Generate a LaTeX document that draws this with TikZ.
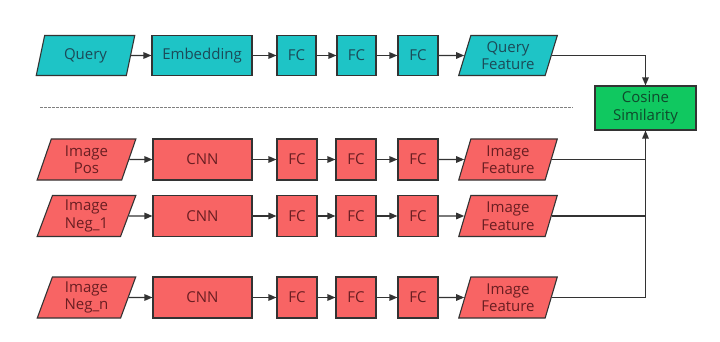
\documentclass[tikz,border=0pt]{standalone}
\usepackage{fontspec}
\setmainfont{Open Sans}
\usetikzlibrary{shapes.geometric,arrows.meta}
\definecolor{qfill}{HTML}{1EC4C6}
\definecolor{ifill}{HTML}{F86464}
\definecolor{cfill}{HTML}{10C860}
\definecolor{edge}{HTML}{333333}
\definecolor{qtext}{HTML}{1C4A58}
\definecolor{itext}{HTML}{6A1E22}
\definecolor{ctext}{HTML}{0F4A2C}
\begin{document}
\begin{tikzpicture}[x=1pt,y=-1pt,
  base/.style={draw=edge,line width=1.1pt,font=\fontsize{15}{17.5}\selectfont,align=center,inner sep=0pt},
  box/.style={base,rectangle,minimum height=40pt},
  para/.style={base,trapezium,trapezium left angle=73,trapezium right angle=107,
    trapezium stretches=true,minimum width=99pt,minimum height=40pt},
  qbox/.style={box,fill=qfill,text=qtext},
  qpara/.style={para,fill=qfill,text=qtext},
  ibox/.style={box,fill=ifill,text=itext,minimum height=41pt},
  ipara/.style={para,fill=ifill,text=itext,minimum height=41pt},
  flow/.style={draw=edge,line width=1.3pt,-{Triangle[length=8pt,width=6.5pt]}},
  link/.style={draw=edge,line width=1.3pt}]
\useasboundingbox (0,0) rectangle (720,342);

% query branch
\node[qpara] (q) at (85.5,55.5) {Query};
\node[qbox,minimum width=100pt] (emb) at (202,55.5) {Embedding};
\node[qbox,minimum width=39pt] (qf1) at (296.5,55.5) {FC};
\node[qbox,minimum width=39pt] (qf2) at (356.5,55.5) {FC};
\node[qbox,minimum width=40pt] (qf3) at (418,55.5) {FC};
\node[qpara] (qfeat) at (508,55.5) {Query\\Feature};

% similarity
\node[box,fill=cfill,text=ctext,minimum width=101pt,minimum height=44pt] (cos) at (645.5,108) {Cosine\\Similarity};

% separator
\draw[draw=black!50,line width=0.6pt,dash pattern=on 2.5pt off 1.5pt] (40,107) coordinate (sepl) -- (573,107) coordinate (sepr);

% image branches
\foreach \n/\y/\lbl in {p/159.5/{Image\\Pos}, a/216/{Image\\Neg\_1}, b/297.5/{Image\\Neg\_n}}{
  \node[ipara] (in\n) at (86.5,\y) {\lbl};
  \node[ibox,minimum width=99pt] (cnn\n) at (202.5,\y) {CNN};
  \node[ibox,minimum width=40pt] (fa\n) at (297,\y) {FC};
  \node[ibox,minimum width=40pt] (fb\n) at (356,\y) {FC};
  \node[ibox,minimum width=40pt] (fc\n) at (418,\y) {FC};
  \node[ipara] (feat\n) at (508,\y) {Image\\Feature};
  \draw[flow] (in\n) -- (cnn\n);
  \draw[flow] (cnn\n) -- (fa\n);
  \draw[flow] (fa\n) -- (fb\n);
  \draw[flow] (fb\n) -- (fc\n);
  \draw[flow] (fc\n) -- (feat\n);
}

\draw[flow] (q) -- (emb);
\draw[flow] (emb) -- (qf1);
\draw[flow] (qf1) -- (qf2);
\draw[flow] (qf2) -- (qf3);
\draw[flow] (qf3) -- (qfeat);
\draw[flow] (qfeat.east) -| (cos.north);

\draw[link] (featp.east) -- (featp.east -| cos.south);
\draw[link] (feata.east) -- (feata.east -| cos.south);
\draw[flow] (featb.east) -| (cos.south);
\end{tikzpicture}
\end{document}
